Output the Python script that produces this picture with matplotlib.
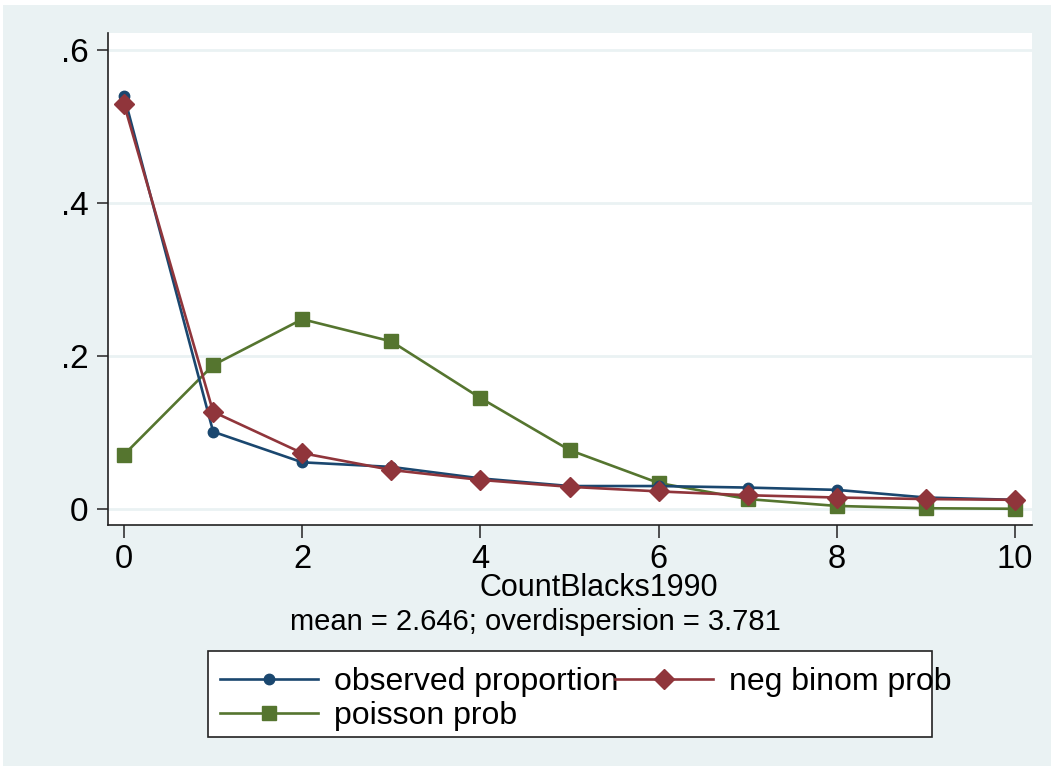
import matplotlib.pyplot as plt
from matplotlib.patches import Rectangle

plt.rcParams['font.family'] = ['Liberation Sans', 'DejaVu Sans']

counts = [0, 1, 2, 3, 4, 5, 6, 7, 8, 9, 10]
observed = [0.540, 0.101, 0.061, 0.055, 0.040, 0.030, 0.030, 0.028, 0.025, 0.015, 0.012]
negbin = [0.529, 0.127, 0.073, 0.051, 0.038, 0.029, 0.023, 0.018, 0.015, 0.013, 0.012]
poisson = [0.071, 0.188, 0.248, 0.219, 0.145, 0.077, 0.034, 0.013, 0.004, 0.001, 0.0003]

ytick_vals = [0, 0.2, 0.4, 0.6]
ytick_labels = ['0', '.2', '.4', '.6']
xtick_vals = [0, 2, 4, 6, 8, 10]

navy = '#1a476f'
maroon = '#90353b'
green = '#55752f'
bg = '#eaf2f3'

W, H = 1053, 770
fig = plt.figure(figsize=(W / 100, H / 100), dpi=100, facecolor='white')
# graph region (light blue-grey) inside a thin white border
fig.patches.append(Rectangle((3 / W, 4 / H), 1048 / W, 761 / H,
                             transform=fig.transFigure, facecolor=bg,
                             edgecolor='none', zorder=-10))

ax = fig.add_axes([108 / W, 1 - 525 / H, (1032 - 108) / W, (525 - 33) / H])
ax.set_facecolor('white')

l_obs, = ax.plot(counts, observed, color=navy, lw=1.9, marker='o', ms=7.5,
                 label='observed proportion', zorder=3)
l_nb, = ax.plot(counts, negbin, color=maroon, lw=1.9, marker='D', ms=10.5,
                label='neg binom prob', zorder=4)
l_poi, = ax.plot(counts, poisson, color=green, lw=1.9, marker='s', ms=10,
                 label='poisson prob', zorder=2)

ax.set_xlim(-0.18, 10.19)
ax.set_ylim(-0.0209, 0.622)
ax.set_yticks(ytick_vals)
ax.set_yticklabels(ytick_labels)
ax.set_xticks(xtick_vals)
ax.grid(axis='y', color=bg, lw=2, zorder=0)
ax.set_axisbelow(True)

for s in ['top', 'right']:
    ax.spines[s].set_visible(False)
for s in ['left', 'bottom']:
    ax.spines[s].set_color('#222222')
    ax.spines[s].set_linewidth(1.2)

ax.tick_params(axis='y', length=8, width=1.2, pad=6, labelsize=24, color='#333333')
ax.tick_params(axis='x', length=9, width=1.2, pad=5, labelsize=23.5, color='#333333')

fig.text(599 / W, 1 - 588 / H, 'CountBlacks1990', ha='center', va='center', fontsize=22)
fig.text(535 / W, 1 - 622 / H, 'mean = 2.646; overdispersion = 3.781',
         ha='center', va='center', fontsize=21)

# legend frame drawn on its own so the long labels may run past it
fig.patches.append(Rectangle((208 / W, 1 - 737 / H), (932 - 208) / W, (737 - 651) / H,
                             transform=fig.transFigure, facecolor='white',
                             edgecolor='#222222', lw=1.2, zorder=1))

# row-wise order: observed, neg binom on the first row; poisson below
leg = fig.legend([l_obs, l_poi, l_nb],
                 ['observed proportion', 'poisson prob', 'neg binom prob'],
                 ncol=2, loc='upper left',
                 bbox_to_anchor=(220 / W, 1 - 667 / H),
                 fontsize=23, frameon=False,
                 handlelength=3.07, handletextpad=0.5, columnspacing=-0.1,
                 labelspacing=0.12, borderpad=0, borderaxespad=0)
leg.set_zorder(2)

fig.savefig('out.png', dpi=100, facecolor='white')
